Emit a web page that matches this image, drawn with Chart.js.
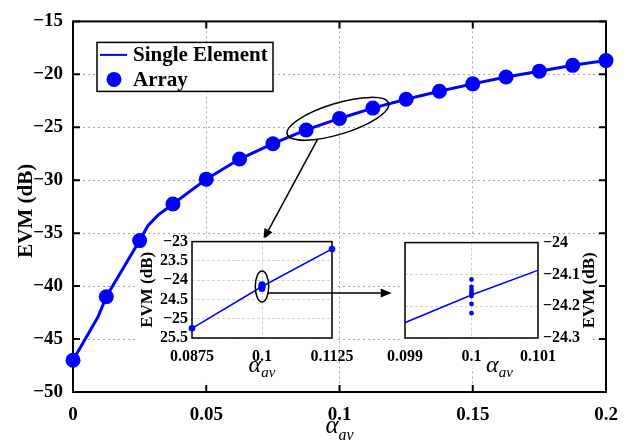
<!DOCTYPE html>
<html>
<head>
<meta charset="utf-8">
<script src="https://cdn.jsdelivr.net/npm/chart.js@4.4.1/dist/chart.umd.min.js"></script>
<style>
  html, body { margin: 0; padding: 0; background: #fff; }
  #wrap { position: relative; width: 630px; height: 444px; }
  #wrap canvas { position: absolute; }
</style>
</head>
<body>
<div id="wrap">
  <canvas id="main" width="630" height="444" style="left:0;top:0"></canvas>
  <canvas id="zoomA" width="268" height="158" style="left:132px;top:228px"></canvas>
  <canvas id="zoomB" width="224" height="158" style="left:378px;top:228px"></canvas>
</div>
<script>
const FONT = "'Liberation Serif', 'Times New Roman', serif";
const BLUE = '#0000ff';

// Array (markers), one per alpha step
const arrayX = [0, 0.0125, 0.025, 0.0375, 0.05, 0.0625, 0.075, 0.0875, 0.1, 0.1125, 0.125, 0.1375, 0.15, 0.1625, 0.175, 0.1875, 0.2];
const arrayEvm = [-47.0, -41.0, -35.7, -32.25, -29.9, -28.0, -26.55, -25.25, -24.16, -23.19, -22.35, -21.6, -20.9, -20.25, -19.7, -19.15, -18.7];

// Single element (line), extra vertices where the curve bends
const singleX = [0, 0.0094, 0.0125, 0.0206, 0.025, 0.0281, 0.0319, 0.0375, 0.05, 0.0625, 0.075, 0.0875, 0.1, 0.1125, 0.125, 0.1375, 0.15, 0.1625, 0.175, 0.1875, 0.2];
const singleEvm = [-47.0, -42.9, -41.0, -37.55, -35.7, -34.3, -33.3, -32.25, -29.9, -28.0, -26.55, -25.25, -24.165, -23.19, -22.35, -21.6, -20.9, -20.25, -19.7, -19.15, -18.7];

// repeated array runs at alpha = 0.1 (seen in the zooms)
const repeatX = 0.1;
const repeatEvm = [-24.116, -24.139, -24.149, -24.157, -24.162, -24.168, -24.193, -24.222];

// ticks
const mainXTicks = [0, 0.05, 0.1, 0.15, 0.2];
const mainYTicks = [-50, -45, -40, -35, -30, -25, -20, -15];
const zoomAXTicks = [0.0875, 0.1, 0.1125];
const zoomAYTicks = [-25.5, -25, -24.5, -24, -23.5, -23];
const zoomAYLabels = ['25.5', '\u221225', '24.5', '\u221224', '23.5', '\u221223'];
const zoomBXTicks = [0.099, 0.1, 0.101];
const zoomBYTicks = [-24.3, -24.2, -24.1, -24];

const pts = (xs, ys) => xs.map((x, i) => ({ x, y: ys[i] }));
const fmt = v => String(v).replace('-', '\u2212');
const fixedTicks = vals => scale => { scale.ticks = vals.map(v => ({ value: v })); };

function drawArrow(ctx, x1, y1, x2, y2, len, half) {
  const ang = Math.atan2(y2 - y1, x2 - x1);
  const bx = x2 - len * Math.cos(ang), by = y2 - len * Math.sin(ang);
  ctx.beginPath();
  ctx.moveTo(x1, y1);
  ctx.lineTo(bx, by);
  ctx.stroke();
  ctx.beginPath();
  ctx.moveTo(x2, y2);
  ctx.lineTo(bx + half * Math.sin(ang), by - half * Math.cos(ang));
  ctx.lineTo(bx - half * Math.sin(ang), by + half * Math.cos(ang));
  ctx.closePath();
  ctx.fill();
}

// white paper behind the insets, box + inner ticks
const framePlugin = {
  id: 'frame',
  beforeDraw(chart, args, o) {
    if (!o.paper) return;
    const { ctx, chartArea: a } = chart;
    ctx.save();
    ctx.fillStyle = '#fff';
    // each rect: offsets from left, top, right, bottom of the plot box
    o.paper.forEach(p => {
      ctx.fillRect(a.left + p[0], a.top + p[1], a.right + p[2] - (a.left + p[0]), a.bottom + p[3] - (a.top + p[1]));
    });
    ctx.restore();
  },
  beforeDatasetsDraw(chart, args, o) {
    const { ctx, chartArea: a, scales } = chart;
    ctx.save();
    ctx.strokeStyle = '#000';
    ctx.lineWidth = o.width;
    ctx.strokeRect(a.left, a.top, a.right - a.left, a.bottom - a.top);
    if (o.tick) {
      ctx.beginPath();
      scales.x.ticks.forEach(t => {
        const px = scales.x.getPixelForValue(t.value);
        ctx.moveTo(px, a.bottom); ctx.lineTo(px, a.bottom - o.tick);
        ctx.moveTo(px, a.top); ctx.lineTo(px, a.top + o.tick);
      });
      scales.y.ticks.forEach(t => {
        const py = scales.y.getPixelForValue(t.value);
        ctx.moveTo(a.left, py); ctx.lineTo(a.left + o.tick, py);
        ctx.moveTo(a.right, py); ctx.lineTo(a.right - o.tick, py);
      });
      ctx.stroke();
    }
    ctx.restore();
  }
};

// axis titles: rotated EVM (dB) and alpha with subscript
const titlePlugin = {
  id: 'titles',
  afterDraw(chart, args, o) {
    const { ctx, chartArea: a } = chart;
    const cx = (a.left + a.right) / 2, cy = (a.top + a.bottom) / 2;
    ctx.save();
    ctx.fillStyle = '#000';
    const t = o.y;
    ctx.font = `bold ${t.size}px ${FONT}`;
    ctx.textAlign = 'center';
    ctx.textBaseline = 'alphabetic';
    ctx.save();
    ctx.translate(t.side === 'left' ? a.left - t.gap : a.right + t.gap, cy + (t.dy || 0));
    ctx.rotate(-Math.PI / 2);
    ctx.fillText(t.text, 0, 0);
    ctx.restore();
    const x = o.x;
    ctx.textAlign = 'left';
    ctx.font = `italic ${x.size}px ${FONT}`;
    const w1 = ctx.measureText(x.base).width;
    ctx.font = `italic ${x.subSize}px ${FONT}`;
    const w2 = ctx.measureText(x.sub).width;
    const x0 = cx + (x.dx || 0) - (w1 + w2) / 2;
    const base = a.bottom + x.dy;
    ctx.font = `italic ${x.size}px ${FONT}`;
    ctx.fillText(x.base, x0, base);
    ctx.font = `italic ${x.subSize}px ${FONT}`;
    ctx.fillText(x.sub, x0 + w1, base + x.subDy);
    ctx.restore();
  }
};

// legend box in the main plot
const legendPlugin = {
  id: 'boxLegend',
  afterDatasetsDraw(chart, args, o) {
    if (!o.show) return;
    const { ctx, chartArea: a } = chart;
    const ds = chart.data.datasets;
    const L = a.left + 24, T = a.top + 21;
    ctx.save();
    ctx.fillStyle = '#fff';
    ctx.fillRect(L, T, 176, 49);
    ctx.strokeStyle = '#000';
    ctx.lineWidth = 1.5;
    ctx.strokeRect(L, T, 176, 49);
    ctx.font = `bold 21px ${FONT}`;
    ctx.textBaseline = 'middle';
    ctx.fillStyle = '#000';
    const rows = [T + 12.5, T + 37];
    ds.forEach((d, i) => {
      const y = rows[i];
      if (d.showLine) {
        ctx.strokeStyle = d.borderColor;
        ctx.lineWidth = 2;
        ctx.beginPath(); ctx.moveTo(L + 3, y); ctx.lineTo(L + 30, y); ctx.stroke();
      } else {
        ctx.fillStyle = d.backgroundColor;
        ctx.beginPath(); ctx.arc(L + 17, y, 7.5, 0, Math.PI * 2); ctx.fill();
      }
      ctx.fillStyle = '#000';
      ctx.fillText(d.label, L + 36, y + 1);
    });
    ctx.restore();
  }
};

// zoom callouts: ellipse around data and arrow
const calloutPlugin = {
  id: 'callout',
  afterDatasetsDraw(chart, args, o) {
    if (!o.ellipse) return;
    const { ctx, scales: { x, y } } = chart;
    const e = o.ellipse;
    const ex = x.getPixelForValue(e.x), ey = y.getPixelForValue(e.y);
    ctx.save();
    ctx.strokeStyle = '#000';
    ctx.fillStyle = '#000';
    ctx.lineWidth = 1.5;
    ctx.beginPath();
    ctx.ellipse(ex, ey, e.rx, e.ry, e.rot * Math.PI / 180, 0, Math.PI * 2);
    ctx.stroke();
    const r = o.arrow;
    drawArrow(ctx, x.getPixelForValue(r.x1), y.getPixelForValue(r.y1), x.getPixelForValue(r.x2), y.getPixelForValue(r.y2), 11, 4.5);
    ctx.restore();
  }
};

function axisFont(size) { return { family: FONT, size, weight: 'bold' }; }

function scaleX(min, max, ticks, height, size, pad, gridColor, dash) {
  return {
    type: 'linear', min, max,
    afterBuildTicks: fixedTicks(ticks),
    afterFit: s => { s.height = height; },
    grid: { color: gridColor, lineWidth: 1, drawTicks: false },
    border: { display: false, dash },
    ticks: { font: axisFont(size), color: '#000', padding: pad, maxRotation: 0, autoSkip: false, callback: v => fmt(v) }
  };
}

function scaleY(min, max, ticks, labels, width, size, pad, gridColor, dash, position) {
  return {
    type: 'linear', min, max, position,
    afterBuildTicks: fixedTicks(ticks),
    afterFit: s => { s.width = width; },
    grid: { color: gridColor, lineWidth: 1, drawTicks: false },
    border: { display: false, dash },
    ticks: { font: axisFont(size), color: '#000', padding: pad, autoSkip: false,
      callback: v => labels ? labels[ticks.indexOf(v)] : fmt(v) }
  };
}

const basePlugins = [framePlugin, titlePlugin, legendPlugin, calloutPlugin];

// main plot
new Chart(document.getElementById('main'), {
  type: 'scatter',
  data: {
    datasets: [
      { label: 'Single Element', data: pts(singleX, singleEvm), showLine: true, borderColor: BLUE, borderWidth: 3, pointRadius: 0, order: 1 },
      { label: 'Array', data: pts(arrayX, arrayEvm), backgroundColor: BLUE, borderWidth: 0, pointRadius: 7.5, clip: false, order: 0 }
    ]
  },
  options: {
    responsive: false, animation: false, events: [],
    layout: { padding: { top: 12, right: 24, left: 0, bottom: 0 } },
    plugins: {
      legend: { display: false }, tooltip: { enabled: false },
      frame: { width: 2, tick: 7 },
      titles: { y: { text: 'EVM (dB)', size: 21, side: 'left', gap: 41, dy: 4 },
                x: { base: '\u03b1', sub: 'av', size: 25, subSize: 16, dy: 41, subDy: 7 } },
      boxLegend: { show: true },
      callout: { ellipse: { x: 0.0994, y: -24.2, rx: 53, ry: 15.5, rot: -17 },
                 arrow: { x1: 0.0917, y1: -26.17, x2: 0.0714, y2: -35.63 } }
    },
    scales: {
      x: scaleX(0, 0.2, mainXTicks, 52, 19, 12, '#a8a8a8', [2, 3]),
      y: scaleY(-50, -15, mainYTicks, null, 73, 19, 10, '#a8a8a8', [2, 3], 'left')
    }
  },
  plugins: basePlugins
});

function zoomData(min, max, r) {
  const marks = pts(arrayX, arrayEvm).filter(p => p.x >= min && p.x <= max && p.x !== repeatX)
    .concat(repeatEvm.map(y => ({ x: repeatX, y })));
  return [
    { label: 'Single Element', data: pts(singleX, singleEvm), showLine: true, borderColor: BLUE, borderWidth: 1.5, pointRadius: 0, order: 1 },
    { label: 'Array', data: marks, backgroundColor: BLUE, borderWidth: 0, pointRadius: r, clip: false, order: 0 }
  ];
}

// first zoom: 0.0875 .. 0.1125
new Chart(document.getElementById('zoomA'), {
  type: 'scatter',
  data: { datasets: zoomData(0.0875, 0.1125, 3.3) },
  options: {
    responsive: false, animation: false, events: [],
    layout: { padding: { top: 13, right: 68, left: 0, bottom: 0 } },
    plugins: {
      legend: { display: false }, tooltip: { enabled: false },
      frame: { width: 1.5, tick: 0, paper: [[-43, -4, 4, 45], [-55, 8, 4, 45]] },
      titles: { y: { text: 'EVM (dB)', size: 17, side: 'left', gap: 40.5 },
                x: { base: '\u03b1', sub: 'av', size: 24, subSize: 15, dy: 33.7, subDy: 5 } },
      callout: { ellipse: { x: 0.1, y: -24.165, rx: 6.7, ry: 15.5, rot: 0 },
                 arrow: { x1: 0.10095, y1: -24.33, x2: 0.12316, y2: -24.33 } }
    },
    scales: {
      x: scaleX(0.0875, 0.1125, zoomAXTicks, 48, 16, 9, '#d4d4d4', [3, 2]),
      y: scaleY(-25.5, -23, zoomAYTicks, zoomAYLabels, 60, 16, 4, '#d4d4d4', [3, 2], 'left')
    }
  },
  plugins: basePlugins
});

// second zoom: 0.099 .. 0.101
new Chart(document.getElementById('zoomB'), {
  type: 'scatter',
  data: { datasets: zoomData(0.099, 0.101, 2.4) },
  options: {
    responsive: false, animation: false, events: [],
    layout: { padding: { top: 13, right: 0, left: 21, bottom: 0 } },
    plugins: {
      legend: { display: false }, tooltip: { enabled: false },
      frame: { width: 1.5, tick: 0, paper: [[-2, -5, 54, 30]] },
      titles: { y: { text: 'EVM (dB)', size: 17, side: 'right', gap: 55.6 },
                x: { base: '\u03b1', sub: 'av', size: 24, subSize: 15, dx: 28, dy: 33.7, subDy: 5 } }
    },
    scales: {
      x: scaleX(0.099, 0.101, zoomBXTicks, 48, 16, 9, '#d4d4d4', [3, 2]),
      y: scaleY(-24.3, -24, zoomBYTicks, null, 64, 16, 5, '#d4d4d4', [3, 2], 'right')
    }
  },
  plugins: basePlugins
});
</script>
</body>
</html>
